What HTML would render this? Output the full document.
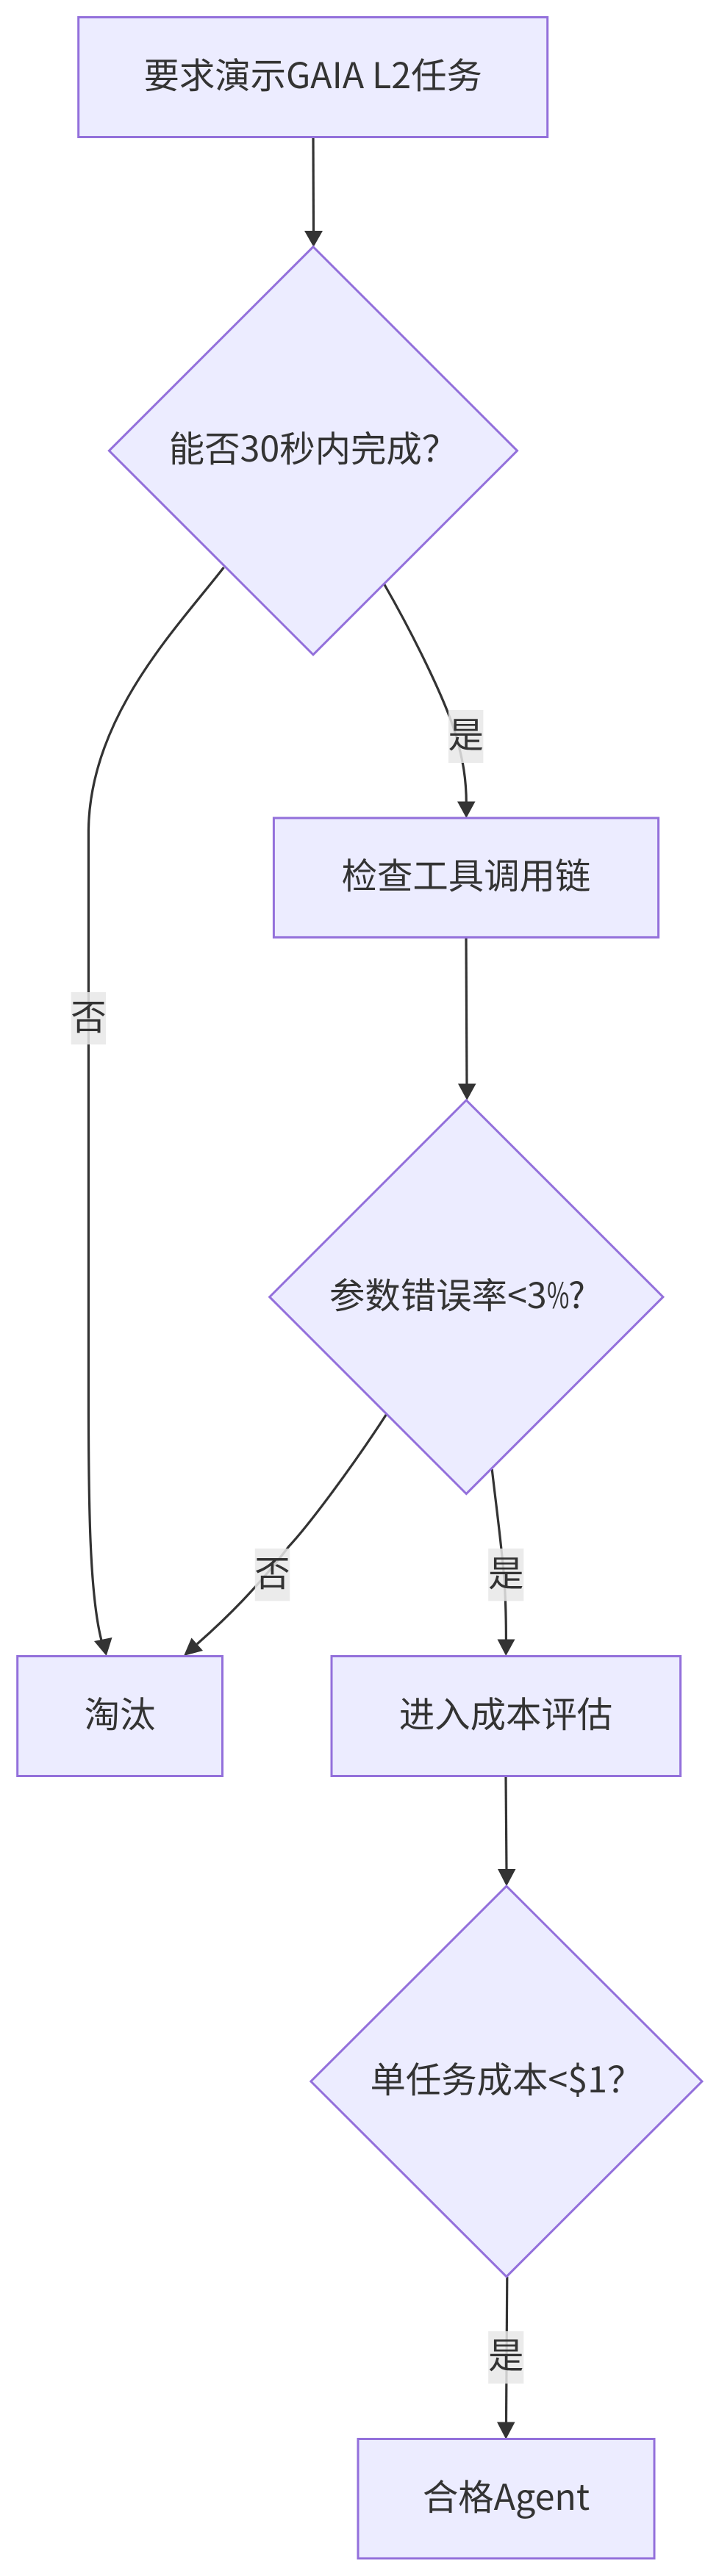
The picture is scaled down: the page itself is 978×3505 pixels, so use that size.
<!DOCTYPE html>
<html lang="zh">
<head>
<meta charset="utf-8">
<style>
html,body{margin:0;padding:0;background:#fff;}
svg{display:block;}
.n{fill:#ECECFF;stroke:#9370DB;stroke-width:3;}
.e{fill:none;stroke:#333;stroke-width:3.2;}
.a{fill:#333;stroke:none;}
.l{fill:#e8e8e8;fill-opacity:.85;}
text{font-family:"Noto Sans CJK SC","Liberation Sans",sans-serif;font-size:48.4px;fill:#333;text-anchor:middle;}
text.s{text-anchor:start;}
</style>
</head>
<body>
<svg width="978" height="3505" viewBox="0 0 978 3505" xmlns="http://www.w3.org/2000/svg">
<rect width="978" height="3505" fill="#fff"/>

<!-- edges -->
<path class="e" d="M426 187L426.5 316"/>
<path class="e" d="M304.4 772C240 855 122 975 120.4 1130L120.4 1900C120.4 2050 122 2170 138 2232"/>
<path class="e" d="M522.7 795C560 860 605 950 620 1000C630 1035 634.3 1060 634.3 1094"/>
<path class="e" d="M634 1275.4L635 1478"/>
<path class="e" d="M525.8 1924C480 1995 420 2075 393 2104C350 2160 310 2200 268 2237"/>
<path class="e" d="M669.2 1999C675 2050 682 2100 686 2150C688 2180 688.4 2200 688.4 2232"/>
<path class="e" d="M688 2416.5L689 2546"/>
<path class="e" d="M689.8 3097.7L688.5 3297"/>

<!-- arrowheads -->
<polygon class="a" points="426.5,336 414,314 439,314"/>
<polygon class="a" points="144.7,2253 128,2233 152.5,2228"/>
<polygon class="a" points="250,2253 260.5,2228.5 276,2246"/>
<polygon class="a" points="634.3,1113 622,1090.5 646.5,1090.5"/>
<polygon class="a" points="635.2,1497 623,1474.5 647.5,1474.5"/>
<polygon class="a" points="688.2,2253 676.5,2230.5 700.5,2230.5"/>
<polygon class="a" points="689,2566.5 677,2543 701.5,2543"/>
<polygon class="a" points="688.2,3319 676,3295.5 700.5,3295.5"/>

<!-- nodes -->
<rect class="n" x="106.7" y="23.5" width="638" height="163"/>
<polygon class="n" points="426,335.8 703.5,613.3 426,890.8 148.4,613.3"/>
<rect class="n" x="372.4" y="1113" width="523.2" height="162.4"/>
<polygon class="n" points="634.3,1497 901.9,1764.7 634.3,2032.5 366.7,1764.7"/>
<rect class="n" x="23.7" y="2253.5" width="278.8" height="163"/>
<rect class="n" x="451" y="2253.5" width="474.6" height="163"/>
<polygon class="n" points="688.9,2566.3 954.9,2832 688.9,3097.7 422.9,2832"/>
<rect class="n" x="487" y="3318.5" width="403" height="162.5"/>

<!-- edge labels -->
<rect class="l" x="610" y="966" width="47.4" height="72"/>
<rect class="l" x="96.7" y="1350" width="47.4" height="71.2"/>
<rect class="l" x="346.8" y="2107" width="47.4" height="71.3"/>
<rect class="l" x="664.2" y="2107" width="48.1" height="71.3"/>
<rect class="l" x="664.2" y="3172" width="48.1" height="71.3"/>

<text x="633.7" y="1017">是</text>
<text x="120.4" y="1401">否</text>
<text x="370.5" y="2158">否</text>
<text x="688.2" y="2158">是</text>
<text x="688.2" y="3222">是</text>

<!-- node labels -->
<text x="425.7" y="120">要求演示GAIA L2任务</text>
<text x="426" y="628">能否30秒内完成&#xFF1F;</text>
<text x="634" y="1209">检查工具调用链</text>
<text class="s" x="448" y="1780">参数错误率&lt;3</text>
<text class="s" transform="translate(744 1780) scale(.68 1)" x="0" y="0">%</text>
<text class="s" x="773" y="1780">?</text>
<text x="163" y="2350">淘汰</text>
<text x="688" y="2350">进入成本评估</text>
<text x="688.9" y="2847">单任务成本&lt;$1&#xFF1F;</text>
<text x="688.5" y="3415">合格Agent</text>
</svg>
</body>
</html>
